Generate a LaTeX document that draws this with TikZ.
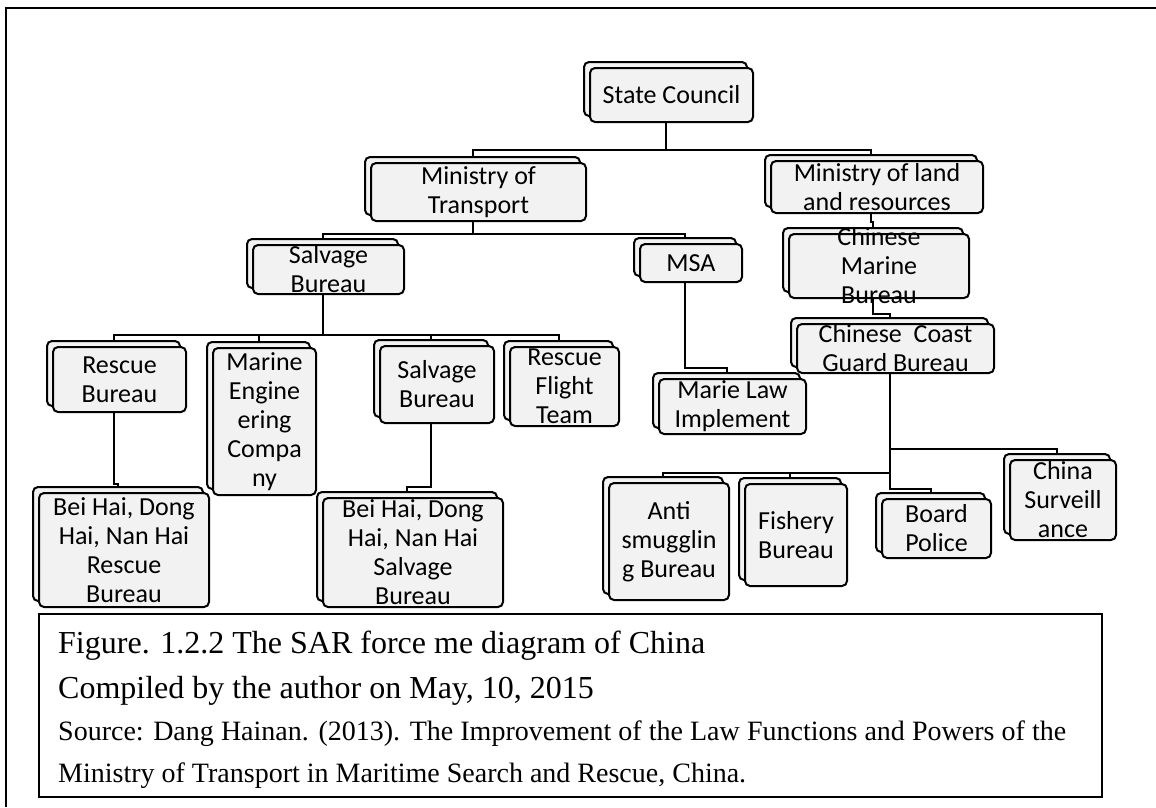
\documentclass[tikz,border=0pt]{standalone}
\usepackage{fontspec}
\setmainfont{Liberation Serif}
\newfontfamily\boxfamily{Carlito}
\usepackage{tikz}
\usetikzlibrary{positioning,shadows}
\definecolor{boxgray}{RGB}{242,242,242}

\begin{document}
\begin{tikzpicture}[auto, node distance = 2cm and 2cm, on grid,
    unit/.style={draw=black, fill=boxgray, rounded corners=5pt, line width=2pt, inner sep=0pt, align=center,
      font=\boxfamily\fontsize{26pt}{29pt}\selectfont,
      copy shadow={shadow xshift=-6pt, shadow yshift=6pt, fill=boxgray, draw=black, line width=2pt}},
    link/.style={draw=black, line width=2pt},
    frameline/.style={draw=black, line width=2.4pt}]
			\useasboundingbox (0,0) rectangle (1156pt,-807pt);
			\draw[frameline] (6pt,-807pt) |- (1156pt,-8pt);
			\node [unit, minimum width=163pt, minimum height=54pt] (SC) at (671.5pt,-95pt) {State Council};
			\node [unit, minimum width=215pt, minimum height=58pt] (MoT) [below left =97pt and 193pt of SC] {Ministry of\\Transport};
			\node [unit, minimum width=212pt, minimum height=52pt] (MLR) [below right =92pt and 205.5pt of SC] {Ministry of land\\and resources};
			\node [unit, minimum width=151pt, minimum height=49pt] (SB1) [below left =77.5pt and 150pt of MoT] {Salvage\\Bureau};
			\node [unit, minimum width=102pt, minimum height=38pt] (MSA) [below right =71pt and 212.5pt of MoT] {MSA};
			\node [unit, minimum width=180pt, minimum height=64pt, label={[font=\boxfamily\fontsize{26pt}{29pt}\selectfont, align=center]center:{Chinese\\Marine\\Bureau}}] (CMB) [below right =79pt and 2pt of MLR] {};
			\node [unit, minimum width=133pt, minimum height=65pt] (RB) [below left =110pt and 209pt of SB1] {Rescue\\Bureau};
			\node [unit, minimum width=103pt, minimum height=147pt] (MEC) [below left =152pt and 64pt of SB1] {Marine\\Engine\\ering\\Compa\\ny};
			\node [unit, minimum width=114pt, minimum height=77pt] (SB2) [below right =115pt and 108.5pt of SB1] {Salvage\\Bureau};
			\node [unit, minimum width=109pt, minimum height=79pt] (RFT) [below right =117pt and 236pt of SB1] {Rescue\\Flight\\Team};
			\node [unit, minimum width=197pt, minimum height=49pt] (CCGB) [below right =82.5pt and 16.5pt of CMB] {Chinese\ \ Coast\\Guard Bureau};
			\node [unit, minimum width=147pt, minimum height=55pt] (MLI) [below right =143.5pt and 41.5pt of MSA] {Marie Law\\Implement};
			\node [unit, minimum width=170pt, minimum height=114pt] (BHR) [below right =170.5pt and 4.5pt of RB] {Bei Hai, Dong\\Hai, Nan Hai\\Rescue\\Bureau};
			\node [unit, minimum width=180pt, minimum height=109pt] (BHS) [below left =168pt and 24pt of SB2] {Bei Hai, Dong\\Hai, Nan Hai\\Salvage\\Bureau};
			\node [unit, minimum width=120pt, minimum height=117pt] (AS) [below left =193pt and 226.5pt of CCGB] {Anti\\smugglin\\g Bureau};
			\node [unit, minimum width=102pt, minimum height=102pt] (FB) [below left =186.5pt and 99.5pt of CCGB] {Fishery\\Bureau};
			\node [unit, minimum width=109pt, minimum height=59pt] (BP) [below right =180pt and 41pt of CCGB] {Board\\Police};
			\node [unit, minimum width=106pt, minimum height=80pt] (CS) [below right =151.5pt and 167.5pt of CCGB] {China\\Surveill\\ance};
			\path[link] ([xshift=-6pt]SC.south) -- ++(0,-27pt) -| ([xshift=-6pt,yshift=6pt]MoT.north);
			\path[link] ([xshift=-6pt]SC.south) -- ++(0,-27pt) -| ([xshift=-6pt,yshift=6pt]MLR.north);
			\path[link] ([xshift=-6pt]MoT.south) -- ++(0,-12pt) -| ([xshift=-6pt,yshift=6pt]SB1.north);
			\path[link] ([xshift=-6pt]MoT.south) -- ++(0,-12pt) -| ([xshift=-6pt,yshift=6pt]MSA.north);
			\path[link] ([xshift=-6pt]MLR.south) -- ++(0,-8pt) -| ([xshift=-6pt,yshift=6pt]CMB.north);
			\path[link] ([xshift=-6pt]SB1.south) -- ++(0,-40pt) -| ([xshift=-6pt,yshift=6pt]RB.north);
			\path[link] ([xshift=-6pt]SB1.south) -- ++(0,-40pt) -| ([xshift=-6pt,yshift=6pt]MEC.north);
			\path[link] ([xshift=-6pt]SB1.south) -- ++(0,-40pt) -| ([xshift=-6pt,yshift=6pt]SB2.north);
			\path[link] ([xshift=-6pt]SB1.south) -- ++(0,-40pt) -| ([xshift=-6pt,yshift=6pt]RFT.north);
			\path[link] ([xshift=-6pt]MSA.south) -- ++(0,-85pt) -| ([xshift=-6pt,yshift=6pt]MLI.north);
			\path[link] ([xshift=-6pt]CMB.south) -- ++(0,-15pt) -| ([xshift=-6pt,yshift=6pt]CCGB.north);
			\path[link] ([xshift=-6pt]RB.south) -- ++(0,-71pt) -| ([xshift=-6pt,yshift=6pt]BHR.north);
			\path[link] ([xshift=-6pt]SB2.south) -- ++(0,-63pt) -| ([xshift=-6pt,yshift=6pt]BHS.north);
			\path[link] ([xshift=-6pt]CCGB.south) -- ++(0,-75pt) -| ([xshift=-6pt,yshift=6pt]CS.north);
			\path[link] ([xshift=-6pt]CCGB.south) -- ++(0,-99pt) -| ([xshift=-6pt,yshift=6pt]AS.north);
			\path[link] ([xshift=-6pt]CCGB.south) -- ++(0,-99pt) -| ([xshift=-6pt,yshift=6pt]FB.north);
			\path[link] ([xshift=-6pt]CCGB.south) -- ++(0,-115pt) -| ([xshift=-6pt,yshift=6pt]BP.north);
			\node [draw=black, line width=2pt, minimum width=1063pt, minimum height=183pt, inner sep=0pt] (capbox) at (570.5pt,-705.5pt) {};
			\node [anchor=base west, inner sep=0pt, font=\fontsize{32pt}{36pt}\selectfont] (figtitle) at ([xshift=20pt,yshift=-40pt]capbox.north west) {Figure. 1.2.2 The SAR force me diagram of China};
			\node [anchor=base west, inner sep=0pt, font=\fontsize{32pt}{36pt}\selectfont] (compiled) at ([yshift=-45pt]figtitle.base west) {Compiled by the author on May, 10, 2015};
			\node [anchor=base west, inner sep=0pt, text width=1008pt, align=justify, font=\fontsize{28pt}{42pt}\selectfont] (source) at ([yshift=-42pt]compiled.base west) {Source: Dang Hainan. (2013). The Improvement of the Law Functions and Powers of the\linebreak Ministry of Transport in Maritime Search and Rescue, China.};
		\end{tikzpicture}
\end{document}
